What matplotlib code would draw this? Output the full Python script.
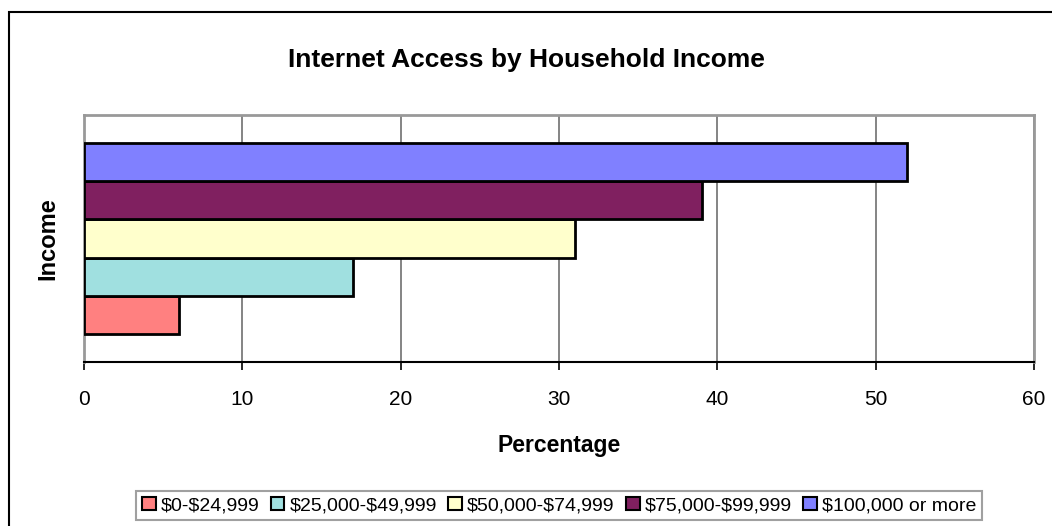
import matplotlib.pyplot as plt
from matplotlib.patches import Patch, Rectangle

plt.rcParams['font.family'] = ['Liberation Sans', 'DejaVu Sans']
plt.rcParams['text.parse_math'] = False

income_groups = ["$0-$24,999", "$25,000-$49,999", "$50,000-$74,999",
                 "$75,000-$99,999", "$100,000 or more"]
percentages = [6, 17, 31, 39, 52]
bar_colors = ["#FF8080", "#A0E0E0", "#FFFFCC", "#802060", "#8080FF"]
x_ticks = [0, 10, 20, 30, 40, 50, 60]

fig = plt.figure(figsize=(10.52, 5.26), dpi=100)

# outer chart border (right and bottom edges run off the canvas)
fig.patches.append(Rectangle((9 / 1052, -0.2), 1.2, 1 - 12 / 526 + 0.2,
                             transform=fig.transFigure, fill=False,
                             edgecolor="black", linewidth=1.5, zorder=0))

ax = fig.add_axes([84 / 1052, 1 - 362 / 526, 950 / 1052, 247 / 526])

# one category, five series stacked bottom to top
offsets = [i - 2 for i in range(len(income_groups))]
for pos, val, col in zip(offsets, percentages, bar_colors):
    ax.barh(pos, val, height=1.0, color=col, edgecolor="black",
            linewidth=2, zorder=3)

ax.set_xlim(0, 60)
ax.set_ylim(-3.24, 3.24)
ax.set_xticks(x_ticks)
ax.set_xticklabels([str(t) for t in x_ticks], fontsize=15)
ax.set_yticks([])
ax.grid(axis="x", color="#707070", linewidth=1.2, zorder=1)

for side in ["top", "right", "left"]:
    ax.spines[side].set_color("#999999")
    ax.spines[side].set_linewidth(2)
ax.spines["bottom"].set_color("black")
ax.spines["bottom"].set_linewidth(1.5)
ax.tick_params(axis="x", direction="out", length=6, width=1.2,
               color="black", pad=14)

ax.set_xlabel("Percentage", fontsize=16.5, fontweight="bold", labelpad=18)
ax.set_ylabel("Income", fontsize=17, fontweight="bold", labelpad=18)
fig.text(0.5, 1 - 60 / 526, "Internet Access by Household Income",
         ha="center", va="center", fontsize=19, fontweight="bold")

handles = [Patch(facecolor=c, edgecolor="black", linewidth=1.5) for c in bar_colors]
leg = fig.legend(handles, income_groups, loc="center", ncol=5,
                 bbox_to_anchor=(559 / 1052, 1 - 505.5 / 526),
                 fontsize=14, handlelength=0.7, handleheight=0.7,
                 handletextpad=0.25, columnspacing=0.6, borderpad=0.3,
                 fancybox=False, frameon=True)
leg.get_frame().set_edgecolor("#888888")
leg.get_frame().set_linewidth(1.5)

fig.savefig("out.png", dpi=100)
